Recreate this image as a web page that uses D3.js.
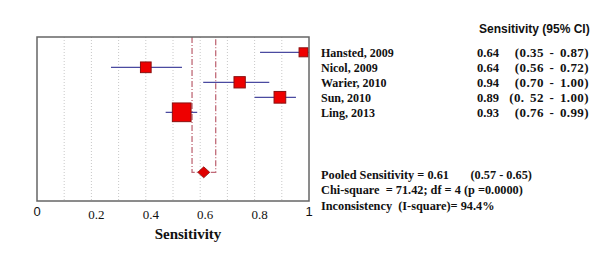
<!DOCTYPE html>
<html>
<head>
<meta charset="utf-8">
<script src="https://cdn.jsdelivr.net/npm/d3@7"></script>
<style>
  body { margin: 0; background: #fff; }
  .serif { font-family: "Liberation Serif", "Times New Roman", serif; font-weight: bold; }
  .sans { font-family: "Liberation Sans", Arial, sans-serif; }
</style>
</head>
<body>
<div id="chart"></div>
<script>
// study data
const studies = ["Hansted, 2009", "Nicol, 2009", "Warier, 2010", "Sun, 2010", "Ling, 2013"];
const estimates = [0.98, 0.40, 0.745, 0.893, 0.532];
const lower = [0.82, 0.272, 0.611, 0.80, 0.473];
const upper = [1.00, 0.533, 0.854, 0.952, 0.589];
const weights = [10.0, 14.1, 15.8, 16.9, 43.2];

// printed column on the right
const sensText = ["0.64", "0.64", "0.94", "0.89", "0.93"];
const ciText = ["(0.35 - 0.87)", "(0.56 - 0.72)", "(0.70 - 1.00)", "(0. 52 - 1.00)", "(0.76 - 0.99)"];

// pooled estimate as drawn
const pooled = 0.613;
const pooledLo = 0.570;
const pooledHi = 0.657;

const statLines = [
  "Pooled Sensitivity = 0.61\u00a0\u00a0\u00a0\u00a0\u00a0\u00a0\u00a0(0.57 - 0.65)",
  "Chi-square\u00a0 = 71.42; df = 4 (p =0.0000)",
  "Inconsistency\u00a0\u00a0(I-square)= 94.4%"
];

const xTicks = [0, 0.2, 0.4, 0.6, 0.8, 1];
const gridTicks = [0.1, 0.2, 0.3, 0.4, 0.5, 0.6, 0.7, 0.8, 0.9];

const width = 600, height = 258;
const frame = { left: 37, top: 37, right: 309, bottom: 201 };

const svg = d3.select("#chart").append("svg")
  .attr("width", width)
  .attr("height", height);

const x = d3.scaleLinear().domain([0, 1]).range([frame.left, frame.right]);
const y = d3.scaleLinear().domain([0, 8]).range([52.3, 172.3]);
const size = d3.scaleSqrt().domain([0, 43.2]).range([0, 18.7]);

// dotted grid
svg.selectAll(".grid")
  .data(gridTicks)
  .join("line")
  .attr("class", "grid")
  .attr("x1", d => x(d)).attr("x2", d => x(d))
  .attr("y1", frame.top).attr("y2", frame.bottom)
  .attr("stroke", "#c8c8c8")
  .attr("stroke-width", 1)
  .attr("stroke-dasharray", "1,2");

// pooled CI dashed lines with bracket
const pooledY = y(8);
svg.append("path")
  .attr("d", `M${x(pooledLo)},${frame.top}V${pooledY}H${x(pooledHi)}V${frame.top}`)
  .attr("fill", "none")
  .attr("stroke", "#c06a78")
  .attr("stroke-width", 1.3)
  .attr("stroke-dasharray", "6,2,1,2");

// CI lines
svg.selectAll(".ci")
  .data(studies)
  .join("line")
  .attr("class", "ci")
  .attr("x1", (d, i) => x(lower[i]))
  .attr("x2", (d, i) => x(upper[i]))
  .attr("y1", (d, i) => y(i))
  .attr("y2", (d, i) => y(i))
  .attr("stroke", "#4a4aa0")
  .attr("stroke-width", 1.2);

// weighted squares
svg.selectAll(".box")
  .data(studies)
  .join("rect")
  .attr("class", "box")
  .attr("x", (d, i) => x(estimates[i]) - size(weights[i]) / 2)
  .attr("y", (d, i) => y(i) - size(weights[i]) / 2)
  .attr("width", (d, i) => size(weights[i]))
  .attr("height", (d, i) => size(weights[i]))
  .attr("fill", "#ee0000")
  .attr("stroke", "#8a1010")
  .attr("stroke-width", 1);

// pooled diamond
const px = x(pooled);
svg.append("path")
  .attr("d", `M${px - 6},${pooledY}L${px},${pooledY - 5.5}L${px + 6},${pooledY}L${px},${pooledY + 5.5}Z`)
  .attr("fill", "#e00000")
  .attr("stroke", "#8a1010")
  .attr("stroke-width", 0.8);

// frame
svg.append("rect")
  .attr("x", frame.left).attr("y", frame.top)
  .attr("width", frame.right - frame.left)
  .attr("height", frame.bottom - frame.top)
  .attr("fill", "none")
  .attr("stroke", "#666")
  .attr("stroke-width", 1.5);

// x tick labels (0 and 1 in sans, rest in serif)
svg.selectAll(".tick-label")
  .data(xTicks)
  .join("text")
  .attr("class", d => (d === 0 || d === 1) ? "tick-label sans" : "tick-label serif")
  .attr("x", d => (d === 0 || d === 1) ? x(d) : x(d) + 5)
  .attr("y", d => (d === 0 || d === 1) ? 216 : 219)
  .attr("text-anchor", "middle")
  .style("font-size", "13px")
  .style("font-weight", "normal")
  .attr("fill", "#111")
  .text(d => d);

// axis title
svg.append("text")
  .attr("class", "serif")
  .attr("x", 188)
  .attr("y", 239)
  .attr("text-anchor", "middle")
  .style("font-size", "15px")
  .attr("fill", "#111")
  .text("Sensitivity");

// column header
svg.append("text")
  .attr("class", "sans")
  .attr("x", 479)
  .attr("y", 33)
  .style("font-size", "12px")
  .style("font-weight", "bold")
  .attr("fill", "#111")
  .text("Sensitivity (95% CI)");

// text rows follow the plotted rows
const rowBase = i => y(i) + 4.3;

svg.selectAll(".study")
  .data(studies)
  .join("text")
  .attr("class", "study serif")
  .attr("x", 321)
  .attr("y", (d, i) => rowBase(i))
  .style("font-size", "12px")
  .attr("fill", "#111")
  .text(d => d);

svg.selectAll(".sens")
  .data(sensText)
  .join("text")
  .attr("class", "sens serif")
  .attr("x", 477)
  .attr("y", (d, i) => rowBase(i))
  .style("font-size", "12.5px")
  .attr("fill", "#111")
  .text(d => d);

svg.selectAll(".ci-text")
  .data(ciText)
  .join("text")
  .attr("class", "ci-text serif")
  .attr("x", 589)
  .attr("y", (d, i) => rowBase(i))
  .attr("text-anchor", "end")
  .style("font-size", "13px")
  .style("letter-spacing", "0.4px")
  .style("word-spacing", "2px")
  .attr("fill", "#111")
  .text(d => d);

// summary statistics
svg.selectAll(".stat")
  .data(statLines)
  .join("text")
  .attr("class", "stat serif")
  .attr("x", 321)
  .attr("y", (d, i) => 179 + i * 15.3)
  .style("font-size", "12.3px")
  .attr("fill", "#111")
  .text(d => d);
</script>
</body>
</html>
